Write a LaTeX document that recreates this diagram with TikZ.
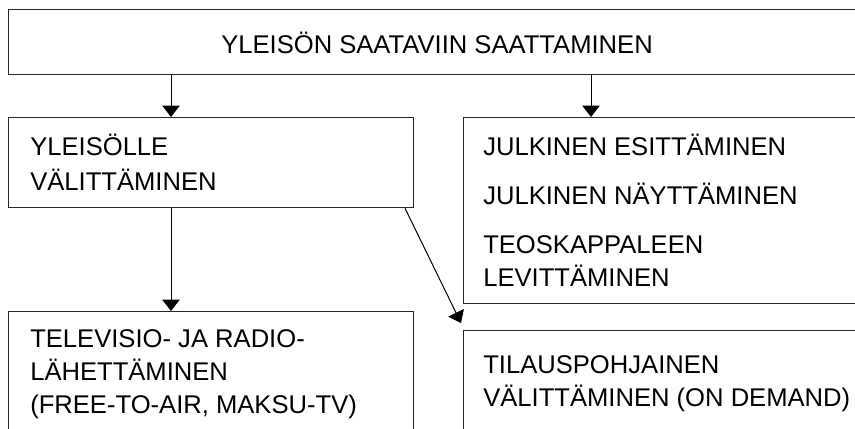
\documentclass[tikz,border=0pt]{standalone}
\usepackage{fontspec}
\setmainfont{Liberation Sans}
\usetikzlibrary{arrows.meta}
\begin{document}
\begin{tikzpicture}[x=0.75pt,y=-0.75pt,
  box/.style={draw=black!85,line width=0.9pt,rectangle,inner sep=0pt,anchor=north west},
  txt/.style={anchor=base west,inner sep=0pt,font=\fontsize{19.2pt}{24pt}\selectfont},
  arr/.style={draw=black,line width=0.75pt,-{Triangle[width=13pt,length=8.5pt]}}]
\useasboundingbox (0,0) rectangle (855,428);
% boxes
\node[box,minimum width=865*0.75pt,minimum height=65*0.75pt] (top) at (8,9) {};
\node[box,minimum width=405*0.75pt,minimum height=90*0.75pt] (l1) at (8,117) {};
\node[box,minimum width=410*0.75pt,minimum height=186*0.75pt] (r1) at (463,117) {};
\node[box,minimum width=405*0.75pt,minimum height=130*0.75pt] (l2) at (8,311) {};
\node[box,minimum width=410*0.75pt,minimum height=110*0.75pt] (r2) at (463,330) {};
% texts
\node[txt,anchor=base] (t0) at (437,54) {YLEISÖN SAATAVIIN SAATTAMINEN};
\node[txt] (t1) at (30,155) {YLEISÖLLE};
\node[txt] (t2) at (30,190) {VÄLITTÄMINEN};
\node[txt] (t3) at (483,155) {JULKINEN ESITTÄMINEN};
\node[txt] (t4) at (483,204) {JULKINEN NÄYTTÄMINEN};
\node[txt] (t5) at (483,253) {TEOSKAPPALEEN};
\node[txt] (t6) at (483,286) {LEVITTÄMINEN};
\node[txt] (t7) at (30,347) {TELEVISIO- JA RADIO-};
\node[txt] (t8) at (30,380) {LÄHETTÄMINEN};
\node[txt] (t9) at (30,413) {(FREE-TO-AIR, MAKSU-TV)};
\node[txt] (t10) at (483,373) {TILAUSPOHJAINEN};
\node[txt] (t11) at (483,406) {VÄLITTÄMINEN (ON DEMAND)};
% connectors
\coordinate (dtip) at (461,323);
\draw[arr] (171,0 |- top.south) -- (171,0 |- l1.north);
\draw[arr] (591,0 |- top.south) -- (591,0 |- r1.north);
\draw[arr] (171,0 |- l1.south) -- (171,0 |- l2.north);
\draw[arr] (405,0 |- l1.south) -- (dtip);
\end{tikzpicture}
\end{document}
